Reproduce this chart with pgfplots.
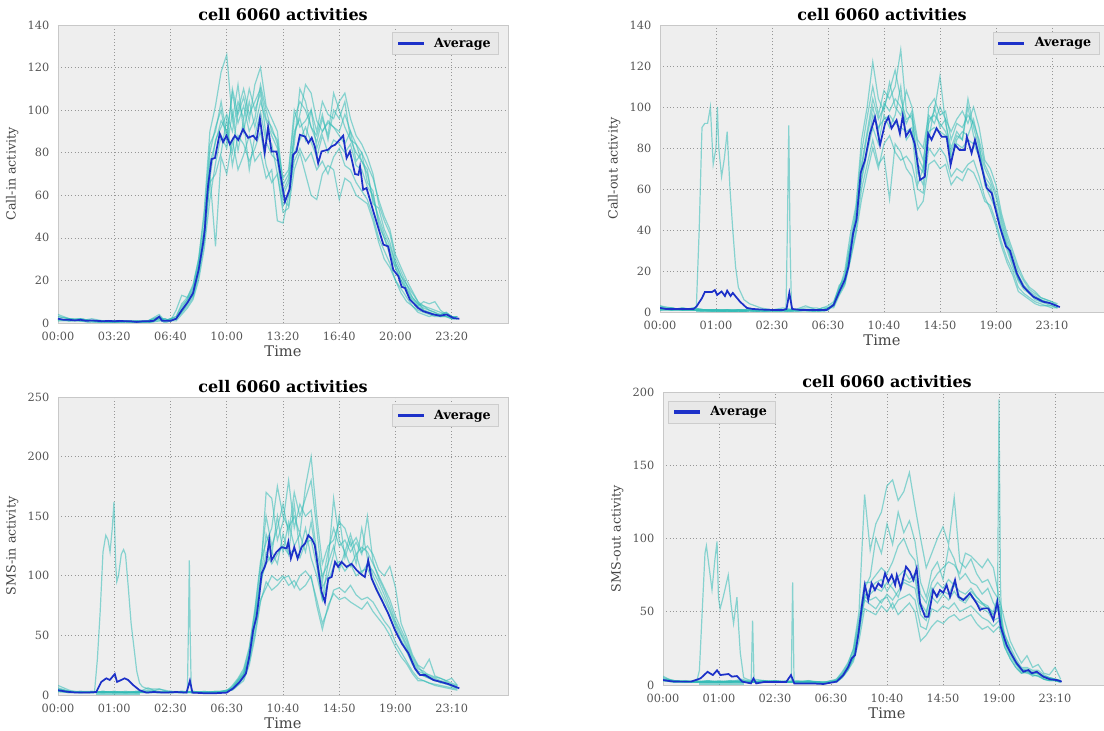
\documentclass[border=0pt]{standalone}
\usepackage{fontspec}
\setmainfont{DejaVu Serif}
\usepackage{pgfplots}
\usepackage{pgfplotstable}
\pgfplotsset{compat=1.18}
\definecolor{bgc}{RGB}{238,238,238}
\definecolor{framec}{RGB}{200,200,200}
\definecolor{gridc}{RGB}{150,150,150}
\definecolor{tickc}{RGB}{85,85,85}
\definecolor{labc}{RGB}{70,70,70}
\definecolor{legc}{RGB}{232,232,232}
\definecolor{legd}{RGB}{205,205,205}
\definecolor{cyc}{RGB}{50,188,182}
\definecolor{avc}{RGB}{28,48,200}
\definecolor{avl}{RGB}{29,49,201}
\pgfplotsset{
  panel/.style={scale only axis, xmin=0, xmax=160, ymin=0,
    axis background/.style={fill=bgc},
    axis line style={draw=framec},
    grid=major, major grid style={draw=gridc, line width=0.5pt, dash pattern=on 0.7pt off 1.8pt},
    major tick length=0pt,
    xtick={0,20,...,140},
    tick label style={font=\fontsize{8.5}{10}\selectfont, text=tickc},
    xticklabel style={yshift=-3pt},
    yticklabel style={xshift=-3pt},
    xlabel={Time}, xlabel style={font=\fontsize{11}{13}\selectfont, text=labc, yshift=2.5pt},
    ylabel style={font=\fontsize{9.5}{11}\selectfont, text=labc},
    title={cell 6060 activities}, title style={font=\bfseries\fontsize{12}{14}\selectfont, yshift=-6pt},
    legend style={fill=legc, draw=legd, font=\bfseries\fontsize{9.5}{11}\selectfont, inner xsep=4pt, inner ysep=2pt},
    legend image code/.code={\path[fill=avl] (0pt,-0.5pt) rectangle (18pt,0.5pt);},
    /pgf/number format/assume math mode=true},
  cy/.style={draw=cyc, line width=0.9pt, draw opacity=0.55, forget plot, no markers},
  av/.style={draw=avc, line width=1.3pt, no markers, forget plot},
  avleg/.style={avl, line width=1.3pt},
}
% ---------- data ----------
\pgfplotstableread{
x c1 c2 c3 c4 c5 c6 c7 c8
0 3 1 2 4 1 2 2 3
4 2 1 1 2 2 1 1 2
8 1 2 1 1 2 1 2 1
12 1 1 2 1 1 0 1 1
16 1 0 1 1 1 1 0 1
20 0 1 1 0 1 1 1 0
24 1 0 1 1 0 1 1 1
28 0 1 0 1 1 0 1 0
32 1 1 0 1 0 1 0 1
36 4 2 1 3 2 1 2 3
38 1 2 1 1 0 2 1 1
40 2 1 1 2 1 1 1 2
42 3 2 6 2 1 2 2 3
44 8 5 13 6 4 7 5 9
46 11 8 12 10 7 11 9 12
48 16 12 18 13 11 15 13 17
50 28 22 30 24 20 27 24 30
52 45 38 53 40 35 44 40 50
54 80 66 90 70 58 75 68 84
56 92 70 102 36 75 85 86 90
58 100 80 118 78 88 95 92 104
60 85 96 126 70 82 90 98 88
62 110 74 95 86 99 80 90 108
64 98 88 112 72 81 100 104 94
66 106 84 90 79 95 110 96 102
68 95 76 104 88 72 98 110 90
70 112 82 92 76 88 104 100 96
72 120 90 104 80 99 110 108 112
74 102 74 95 68 85 96 88 100
76 96 66 88 72 79 92 84 90
78 90 70 82 48 76 84 70 86
80 65 52 60 47 58 68 55 62
82 70 54 66 60 55 72 62 68
84 96 72 88 76 80 100 90 84
86 104 80 98 82 86 92 96 110
88 100 70 112 76 92 95 86 104
90 92 60 108 80 85 100 100 92
92 85 58 95 72 78 90 82 88
94 96 70 90 76 88 104 90 98
96 88 74 95 70 80 98 94 86
98 108 72 92 78 86 96 92 100
100 100 58 90 82 84 104 88 96
102 92 68 98 74 80 108 84 104
104 86 66 90 72 84 96 90 86
106 80 60 84 66 74 88 76 84
108 76 58 80 62 72 84 80 76
110 70 56 74 58 64 78 66 72
112 58 48 68 50 60 70 62 56
114 50 38 58 40 48 56 46 54
116 42 30 50 34 40 48 40 44
118 36 26 44 28 34 42 32 38
120 28 20 32 20 26 30 26 28
122 22 16 26 14 20 24 20 22
124 18 12 20 10 16 18 14 16
126 12 8 15 8 10 14 11 12
128 9 6 10 5 8 10 8 9
130 7 5 8 4 10 6 6 8
132 6 4 7 3 9 5 5 6
134 5 3 6 4 10 4 4 5
136 4 3 5 3 6 4 4 3
138 5 3 4 3 4 5 3 4
140 3 2 3 2 3 3 3 2
142 3 2 2 2 3 2 2 3
}\tlcyan
\pgfplotstableread{
x c1 c2 c3 c4 c5 c6 c7 c8
0 3 2 1 2 3 1 2 1
4 2 1 1 2 1 2 1 2
8 1 2 1 1 2 1 1 1
12 1 1 2 1 1 1 2 1
16 1 1 1 0 1 1 1 1
20 1 0 1 1 0 1 1 1
24 0 1 1 0 1 1 1 0
28 1 1 0 1 1 0 0 1
32 1 0 1 1 0 1 1 1
36 0 1 1 1 1 0 1 0
40 1 1 0 1 1 1 0 1
44 1 0 1 2 1 0 1 1
48 1 1 0 1 1 1 1 0
52 3 1 0 1 2 1 1 1
56 1 0 1 1 2 0 1 1
58 2 1 0 1 1 1 1 2
60 3 2 1 2 1 1 2 2
62 5 3 4 2 3 4 4 3
64 12 9 11 8 10 13 11 9
66 18 14 20 13 15 16 17 14
68 34 26 38 25 30 32 32 28
70 50 40 52 38 45 48 46 44
72 78 60 84 55 66 72 70 64
74 95 72 100 68 80 88 86 78
76 110 84 122 80 96 104 100 90
78 96 72 104 70 90 94 88 82
80 108 76 98 82 94 100 102 96
82 104 55 112 86 96 108 98 90
84 110 82 100 78 92 118 104 96
86 128 78 96 74 90 104 100 110
88 98 70 108 76 88 94 92 84
90 94 66 100 72 90 96 98 88
92 76 50 84 60 72 82 68 62
94 70 54 80 58 68 74 62 70
96 100 72 96 80 88 92 94 84
98 104 74 92 76 90 98 96 100
100 96 70 100 80 88 115 92 90
102 98 72 94 76 86 92 88 94
104 84 62 88 66 76 80 78 74
106 92 66 94 70 82 88 86 84
108 90 64 98 68 80 84 84 88
110 96 70 92 72 84 104 100 86
112 92 68 100 74 82 90 86 94
114 84 62 90 66 76 80 78 82
116 72 54 74 56 64 70 66 62
118 66 52 70 50 60 64 62 56
120 58 44 62 42 50 56 52 50
122 46 34 48 32 40 44 42 38
124 36 26 38 24 32 34 32 30
126 28 20 30 18 24 26 24 22
128 20 12 22 10 16 18 16 15
130 15 9 16 8 12 13 12 11
132 11 7 12 6 9 10 9 9
134 9 5 10 4 7 8 7 6
136 7 4 7 3 6 6 5 5
138 6 3 6 3 5 5 5 4
140 5 3 5 2 4 4 4 3
142 3 2 4 2 3 3 3 2
}\trcyan
\pgfplotstableread{
x c1 c2 c3 c4 c5 c6 c7 c8
0 6 4 8 5 3 4 5 3
4 3 2 4 3 2 3 3 2
8 2 3 2 2 3 2 2 2
12 2 2 3 2 2 2 3 2
16 3 2 2 3 2 3 2 3
20 2 3 2 2 3 2 3 2
24 2 2 3 2 2 3 2 2
28 3 2 2 3 2 2 2 3
32 4 2 3 2 6 2 3 2
36 3 2 2 5 2 3 2 2
40 2 3 2 2 3 2 2 3
44 3 2 3 2 2 3 2 2
48 2 3 2 3 2 2 3 2
52 2 2 3 2 3 2 2 2
56 3 2 2 3 2 2 2 3
58 3 3 2 3 2 3 2 3
60 4 3 3 4 3 3 3 4
62 7 5 6 4 5 8 6 5
64 13 9 12 8 10 14 11 12
66 20 14 18 12 16 22 17 18
68 38 28 35 25 30 40 33 30
70 70 52 66 48 58 72 62 60
72 108 80 100 78 90 112 96 94
74 150 90 170 95 120 128 110 135
76 125 100 165 88 110 140 118 120
78 140 96 130 92 118 175 150 110
80 160 100 145 98 125 150 120 135
82 135 92 180 100 118 140 145 118
84 170 96 140 90 122 150 125 160
86 150 88 160 100 115 135 135 120
88 165 92 150 104 128 175 120 140
90 180 100 155 98 130 200 145 115
92 140 75 120 80 108 150 115 100
94 95 55 100 60 80 110 90 80
96 120 75 110 72 95 125 100 110
98 140 85 165 88 108 130 118 125
100 125 80 130 90 112 145 150 105
102 130 82 120 86 104 140 115 120
104 120 78 135 92 110 125 130 108
106 128 75 118 84 100 132 110 118
108 118 72 124 80 104 120 140 102
110 150 78 120 82 106 125 115 110
112 112 70 110 78 96 118 100 104
114 98 64 100 70 86 105 90 95
116 88 58 90 62 76 100 80 84
118 76 50 80 56 66 108 70 72
120 62 40 66 44 54 90 58 60
122 52 32 55 36 45 60 46 50
124 42 26 45 28 36 48 38 40
126 30 18 32 20 26 34 26 28
128 22 12 24 14 18 25 18 20
130 20 12 18 12 16 22 16 18
132 16 10 17 10 14 30 14 15
134 14 8 15 9 12 16 12 13
136 12 7 14 8 11 14 11 10
138 11 6 12 7 10 12 9 10
140 9 5 10 6 8 14 8 7
142 7 4 8 5 6 8 6 6
}\blcyan
\pgfplotstableread{
x c1 c2 c3 c4 c5 c6 c7 c8
0 5 3 4 6 3 4 4 3
4 3 2 3 2 3 2 3 2
8 2 2 3 2 2 2 2 3
12 2 3 2 2 2 2 2 2
16 2 2 2 3 2 2 3 2
20 2 2 3 2 2 2 2 2
24 2 3 2 2 2 3 2 2
28 3 2 2 2 4 2 2 3
32 2 2 3 2 2 2 2 2
36 3 2 2 2 3 2 2 3
40 2 3 2 2 2 3 3 2
44 2 2 2 3 2 2 2 2
48 2 2 3 2 2 2 2 2
52 2 2 2 2 3 2 2 3
56 2 1 2 2 1 2 1 2
58 2 1 2 1 2 1 1 2
60 3 2 2 2 2 2 2 3
62 4 3 2 3 2 4 3 3
64 8 6 5 7 5 9 6 7
66 14 12 10 12 10 15 11 13
68 25 18 16 20 18 24 18 22
70 50 38 30 40 35 45 36 42
72 130 60 52 62 58 70 66 60
74 92 58 50 62 55 70 74 66
76 110 60 48 66 52 75 100 70
78 118 56 54 64 58 80 90 72
80 136 62 50 70 60 76 110 64
82 140 58 56 66 52 84 96 70
84 126 64 48 60 58 95 118 74
86 132 70 52 72 60 100 104 78
88 145 68 56 70 62 90 112 72
90 122 66 50 72 58 85 98 76
92 100 48 30 52 40 62 70 56
94 80 44 34 48 38 56 60 50
96 90 60 40 66 52 70 78 64
98 100 56 44 60 50 76 84 70
100 108 62 42 64 54 80 72 66
102 96 58 46 62 52 84 94 72
104 128 64 48 70 56 82 86 68
106 84 58 44 60 50 76 72 64
108 80 56 46 58 52 90 76 62
110 86 62 48 64 54 88 70 66
112 76 56 42 60 50 84 68 60
114 70 52 38 56 46 80 62 56
116 72 50 40 54 44 86 66 52
118 64 44 36 48 40 80 56 48
120 58 46 40 52 44 60 50 54
122 34 28 26 30 26 44 32 30
124 26 20 18 22 18 30 24 22
126 18 14 12 16 12 22 16 15
128 12 9 8 11 8 15 11 10
130 12 8 9 10 9 20 11 10
132 10 7 6 8 7 12 9 8
134 10 6 7 8 6 14 8 8
136 7 4 4 6 4 8 6 5
138 5 3 3 5 3 7 5 4
140 4 3 3 4 3 12 4 3
142 3 2 2 3 2 4 3 2
}\brcyan
\begin{document}
\begin{tikzpicture}
\path[use as bounding box] (0,0) rectangle (828pt,548.25pt);
% ================= top left =================
\begin{axis}[panel, at={(43.5pt,306pt)}, anchor=south west,
  width=337.5pt, height=223.5pt, ymax=140, ytick={0,20,...,140},
  xticklabels={00:00,03:20,06:40,10:00,13:20,16:40,20:00,23:20},
  ylabel={Call-in activity},
  legend style={at={(0.98,0.975)}, anchor=north east}]
\addlegendimage{avleg}
\addlegendentry{\hspace*{6pt}Average}
\addplot[cy] table[x=x,y=c1]{\tlcyan};
\addplot[cy] table[x=x,y=c2]{\tlcyan};
\addplot[cy] table[x=x,y=c3]{\tlcyan};
\addplot[cy] table[x=x,y=c4]{\tlcyan};
\addplot[cy] table[x=x,y=c5]{\tlcyan};
\addplot[cy] table[x=x,y=c6]{\tlcyan};
\addplot[cy] table[x=x,y=c7]{\tlcyan};
\addplot[cy] table[x=x,y=c8]{\tlcyan};
\addplot[av] coordinates {(0,2)(2,1.5)(4,1.5)(6,1.2)(8,1.5)(10,1)(12,1.2)(14,1)(16,0.8)(18,1)(20,0.8)(22,1)(24,0.8)(26,0.8)(28,0.5)(30,0.8)(32,0.8)(34,1)(36,3)(37,1)(40,1)(42,2)(44,6)(46,9.5)(48,14)(50,25)(51.6,37.6)(52.2,44)(52.8,56)(53.4,65)(54.6,77)(55.8,77.5)(57.5,89)(58.7,85)(59.9,88)(61.1,84)(62.9,88)(64.1,86)(65.8,91)(67.6,87)(69.4,88)(70.6,86)(71.8,96)(73.5,80)(74.7,92)(75.9,80.6)(77.7,80.6)(79.5,66.5)(80.7,57)(82.4,63)(83.6,79)(84.8,80.6)(86,88.4)(87.8,87.6)(89,84.5)(90.2,87)(91.3,83)(92.5,75)(93.7,80.6)(96,81.4)(97.3,83)(98.5,83.7)(99.6,85.3)(101.4,88)(102.6,77.5)(103.8,80.6)(105.6,70)(106.8,69.6)(107.4,73.6)(108.5,62.6)(109.7,63.4)(112,53)(114.5,42)(115.7,36.8)(117.4,36)(119.2,25)(121,22)(122.2,17)(123.4,16.4)(125.1,11)(128.1,7)(129.9,5.5)(133.5,4)(135.8,3.4)(138.2,4)(140.6,2.3)(142.7,2)};
\end{axis}
% ================= top right =================
\begin{axis}[panel, at={(495pt,314.25pt)}, anchor=south west,
  width=333pt, xmax=158.6, height=215.25pt, ymax=140, ytick={0,20,...,140},
  xticklabels={00:00,01:00,02:30,06:30,10:40,14:50,19:00,23:10},
  ylabel={Call-out activity},
  legend style={at={(0.99,0.975)}, anchor=north east}]
\addlegendimage{avleg}
\addlegendentry{\hspace*{6pt}Average}
\addplot[cy] table[x=x,y=c1]{\trcyan};
\addplot[cy] table[x=x,y=c2]{\trcyan};
\addplot[cy] table[x=x,y=c3]{\trcyan};
\addplot[cy] table[x=x,y=c4]{\trcyan};
\addplot[cy] table[x=x,y=c5]{\trcyan};
\addplot[cy] table[x=x,y=c6]{\trcyan};
\addplot[cy] table[x=x,y=c7]{\trcyan};
\addplot[cy] table[x=x,y=c8]{\trcyan};
\addplot[cy] coordinates {(0,1)(12,1)(13,3)(14,40)(15,90)(16,92)(17,92)(18,100)(19,72)(20,80)(20.5,100)(21,80)(22,66)(23,75)(24,88)(25,60)(26,40)(27,22)(28,12)(30,6)(31,5)(32,4)(34,3)(36,2)(40,1)(58,1)};
\addplot[cy] coordinates {(40,1)(45,1)(45.5,40)(46,91)(46.5,30)(47,1)(56,1)};
\addplot[cy, line width=2.2pt] coordinates {(13,0.5)(31,0.5)};
\addplot[av] coordinates {(0,2)(2,1.5)(4,1.5)(6,1.4)(8,1.5)(10,1.4)(12,1.5)(13,2.6)(15,6.8)(16,9.7)(18.5,9.7)(19.6,10.7)(20.4,8.3)(22,10)(23.2,7.8)(24,10.4)(25.2,7.8)(26,9.3)(28.6,5)(31,2)(33,1.5)(36,1.2)(40,1)(44,1)(45.2,1.5)(46.2,9.3)(47.2,1.5)(50,1)(54,1)(58,1)(59.5,1)(62,3.4)(64.3,10.7)(66,15.6)(67.3,22)(69,38.5)(70.2,45)(71.7,68)(73.2,74)(75,87)(76.8,95)(78.6,81.5)(80.4,92)(81.6,95)(82.7,89.6)(84.5,93.6)(85.7,87)(86.7,95.6)(87.9,85.8)(89.3,88.8)(91,82)(92.9,64.4)(94.6,66)(95.8,87)(97,84)(98.8,89.6)(100.6,85.5)(102.4,85.5)(103.8,71.7)(105.4,81.5)(107,79)(108.9,79)(109.6,85.5)(111.3,77.5)(112.5,84)(114.3,74)(116.7,60.5)(118.5,58)(119.6,51.4)(121.4,41.6)(123.6,32)(125,30)(127.4,19)(129.8,12.4)(133.3,7.5)(136.9,5)(139.3,4.3)(141.7,3)(142.8,2.4)};
\end{axis}
% ================= bottom left =================
\begin{axis}[panel, at={(43.5pt,27pt)}, anchor=south west,
  width=337.5pt, height=223.5pt, ymax=250, ytick={0,50,...,250},
  xticklabels={00:00,01:00,02:30,06:30,10:40,14:50,19:00,23:10},
  ylabel={SMS-in activity},
  legend style={at={(0.98,0.975)}, anchor=north east}]
\addlegendimage{avleg}
\addlegendentry{\hspace*{6pt}Average}
\addplot[cy] table[x=x,y=c1]{\blcyan};
\addplot[cy] table[x=x,y=c2]{\blcyan};
\addplot[cy] table[x=x,y=c3]{\blcyan};
\addplot[cy] table[x=x,y=c4]{\blcyan};
\addplot[cy] table[x=x,y=c5]{\blcyan};
\addplot[cy] table[x=x,y=c6]{\blcyan};
\addplot[cy] table[x=x,y=c7]{\blcyan};
\addplot[cy] table[x=x,y=c8]{\blcyan};
\addplot[cy] coordinates {(0,3)(13,3)(14,30)(15,70)(16,120)(17,134)(17.8,130)(18.5,120)(19.3,140)(19.9,162)(20.5,110)(20.9,95)(21.5,100)(22.5,118)(23.3,122)(24,118)(25,90)(26,60)(27,40)(28,20)(29,10)(30,7)(32,5)(36,5)(40,3)(44,3)(56,2)};
\addplot[cy] coordinates {(40,2)(46,2)(46.4,60)(46.7,113)(47,50)(47.4,2)(56,2)};
\addplot[cy, line width=2.2pt] coordinates {(13.6,0.8)(29,0.8)};
\addplot[av] coordinates {(0,4)(3,2.8)(6.5,2)(10,2)(13.6,2.5)(15.4,11)(17.2,14)(18.4,12.6)(20.2,17.6)(21,11)(22.5,12.6)(23.7,14)(24.9,12.6)(26.7,8.4)(29,4)(31.4,2)(34,2.5)(38,2)(42,2.5)(45.7,2)(46.9,12)(47.8,2)(52,1.5)(56,1.5)(60,2)(62.3,5.6)(64.6,11)(66.8,18)(68,32)(69.4,54.5)(70.6,65.6)(71.5,82)(72.4,102)(73.5,107.5)(74.1,112)(75.1,130)(75.9,113)(77.7,120)(79.5,124)(81.3,123)(81.9,128.5)(82.8,114.5)(84,124)(85.2,114.5)(86.6,124)(87.8,127)(89,134)(90.2,131)(91.3,125.7)(92.5,106)(93.7,86.6)(94.9,78)(96.1,97.8)(97.3,99)(98.5,111.7)(99.6,107.5)(100.8,111.7)(102.6,107.5)(104.4,110)(106.2,104.7)(107.4,102)(109.1,99)(110.3,113)(111.5,97.8)(113.3,88)(115.1,79.6)(117.4,68.4)(119.8,54.5)(122.2,43.3)(124.6,35)(126.9,22.3)(128.7,16.8)(130.5,16.8)(133.5,12.6)(135.8,11.2)(138.8,9.2)(142.7,5.6)};
\end{axis}
% ================= bottom right =================
\begin{axis}[panel, at={(497.25pt,34.5pt)}, anchor=south west,
  width=336pt, height=219.75pt, ymax=200, ytick={0,50,...,200},
  xticklabels={00:00,01:00,02:30,06:30,10:40,14:50,19:00,23:10},
  ylabel={SMS-out activity},
  legend style={at={(0.012,0.97)}, anchor=north west}]
\addlegendimage{avleg}
\addlegendentry{\hspace*{6pt}Average}
\addplot[cy] table[x=x,y=c1]{\brcyan};
\addplot[cy] table[x=x,y=c2]{\brcyan};
\addplot[cy] table[x=x,y=c3]{\brcyan};
\addplot[cy] table[x=x,y=c4]{\brcyan};
\addplot[cy] table[x=x,y=c5]{\brcyan};
\addplot[cy] table[x=x,y=c6]{\brcyan};
\addplot[cy] table[x=x,y=c7]{\brcyan};
\addplot[cy] table[x=x,y=c8]{\brcyan};
\addplot[cy] coordinates {(0,3)(12,2)(13,10)(14,50)(15,90)(15.5,95)(16.5,80)(17.5,65)(18.5,85)(19.3,98)(19.8,60)(20.4,52)(21.5,60)(23.3,75)(24.3,55)(25.2,42)(26.4,60)(27,40)(27.6,22)(28.8,5)(30,4)(31.5,3)(32,44)(32.5,4)(36,3)(44,2)(56,2)};
\addplot[cy] coordinates {(40,2)(45.8,2)(46.3,70)(46.8,2)(56,2)};
\addplot[cy] coordinates {(110,60)(118,50)(119.5,60)(120,195)(120.5,70)(121,40)(124,25)};
\addplot[cy, line width=2.2pt] coordinates {(13,0.8)(29,0.8)};
\addplot[av] coordinates {(0,3.4)(3,2.5)(6,2.3)(10,2.3)(13.4,4.5)(15.9,9)(17.8,6.8)(19.3,10)(20.5,6.8)(23.4,7.5)(24.6,5.7)(26.4,6.1)(28.3,2.3)(31.4,1.1)(32.3,4.5)(33.3,1.1)(36,2)(40,2)(44,2)(45.7,6.8)(46.9,1)(50,1)(54,1)(57.3,0.7)(62,2.3)(64.4,6.8)(66.2,12.5)(67.4,18.2)(68.6,20.5)(69.8,35)(71,53.5)(72.1,68.3)(73.3,58)(74.5,69.4)(75.7,64.8)(76.9,69.4)(78.1,67)(79.3,76.2)(80.5,70.5)(81.7,75)(82.9,68.3)(83.5,75)(84.9,66)(86.8,80.8)(88.2,77.3)(89.4,71.7)(90.6,79.6)(91.8,55.8)(93.6,46.6)(94.8,46.6)(96.5,64.8)(97.8,60.3)(98.9,64.8)(100.1,63)(101.3,68.3)(102.5,60.3)(104.3,71.7)(105.5,60.3)(107.3,58)(109.6,62.6)(112,55.8)(113.2,51.2)(114.4,52.3)(116.2,52.3)(118,44.4)(119.4,56.9)(120.6,39.8)(122.7,27.3)(123.9,22.8)(126.3,14.8)(128.7,9.1)(130.5,10.2)(131.7,8)(133.5,9.1)(135.8,5.7)(138.2,3.9)(140.6,3.4)(142.4,2.3)};
\end{axis}
\end{tikzpicture}
\end{document}
